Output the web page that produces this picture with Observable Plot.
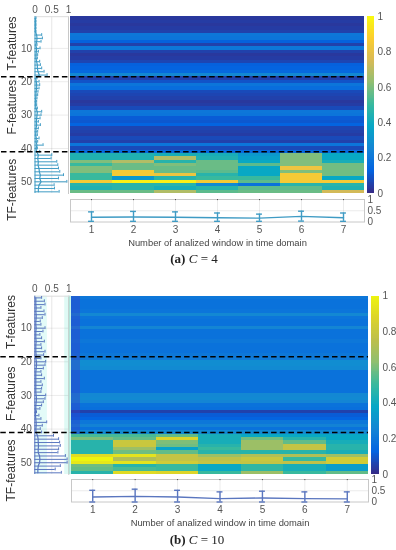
<!DOCTYPE html>
<html><head><meta charset="utf-8">
<script src="https://cdn.jsdelivr.net/npm/d3@7"></script>
<script src="https://cdn.jsdelivr.net/npm/@observablehq/plot@0.6"></script>
<style>
html,body{margin:0;padding:0;background:#fff}
#root{position:relative;width:396px;height:550px;overflow:hidden;filter:blur(.35px)}
#root svg{position:absolute;left:0;top:0;max-width:none}
.cap{position:absolute;font-family:"Liberation Serif",serif;font-size:13px;color:#222;white-space:pre;transform:translateX(-50%)}
</style></head><body><div id="root"></div>
<script>
const parulaA = ["#352a87","#0363e1","#1485d4","#06a7c6","#38b99e","#92bf73","#d9ba56","#fcce2e","#f9fb0e"];
const parulaB = ["#352a87","#0363e1","#1485d4","#06a7c6","#38b99e","#8fbf70","#bdbf4c","#dcd42a","#eef50e"];
const windows = [1,2,3,4,5,6,7];
const colorTicks = [0,0.2,0.4,0.6,0.8,1];
const errTicks = [0,0.5,1];
const rowTicks = [10,20,30,40,50];
const dividers = [18.5,41];
const groupLabels = ["T-features","F-features","TF-features"];
const xTitle = "Number of analized window in time domain";

// Panel (a) C = 4
const baseA = [.03,.04,.03,.04,.05,.2,.19,.12,.05,.2,.05,.03,.04,.06,.12,.13,.15,.26,.05,.09,.19,.16,.07,.06,.05,.03,.04,.07,.2,.19,.11,.1,.13,.06,.05,.04,.07,.05,.19,.07,.15];
const tfA = [
 [.44,.44,.6,.5,.6,.6,.5,.5,.85,.46,.44,.57],
 [.44,.44,.68,.57,.57,.85,.85,.32,.97,.46,.46,.57],
 [.42,.68,.46,.6,.57,.57,.82,.46,.97,.46,.42,.68],
 [.42,.44,.57,.57,.57,.55,.46,.5,.85,.27,.46,.55],
 [.32,.35,.38,.55,.38,.38,.38,.5,.55,.18,.55,.57],
 [.6,.6,.6,.6,.82,.6,.85,.85,.85,.46,.55,.57],
 [.38,.38,.42,.58,.58,.58,.58,.38,.85,.46,.44,.74]
];
const meanRowA = [.01,.01,.01,.01,.01,.05,.06,.05,.02,.05,.04,.03,.03,.05,.07,.07,.09,.13,.02,.04,.05,.05,.03,.03,.02,.02,.02,.03,.07,.06,.05,.04,.05,.03,.03,.02,.04,.03,.06,.03,.05,.1,.08,.1,.09,.12,.13,.16,.14,.18,.12,.1,.1];
const upperRowA = [.03,.03,.03,.03,.03,.2,.22,.18,.06,.15,.1,.08,.07,.14,.16,.2,.27,.36,.06,.12,.14,.12,.09,.08,.06,.05,.05,.07,.2,.18,.15,.1,.16,.1,.08,.07,.12,.08,.24,.07,.14,.5,.48,.65,.68,.7,.74,.85,.7,.95,.57,.58,.72];
const meanWinA = [.21,.22,.21,.19,.17,.25,.19];
const upperWinA = [.45,.47,.45,.4,.35,.48,.4];
const lowerWinA = [.03,.03,.03,.03,.03,.04,.03];

// Panel (b) C = 10
const baseB = [.2,.18,.18,.18,.19,.26,.19,.18,.18,.25,.18,.18,.18,.2,.18,.18,.18,.2,.21,.28,.28,.27,.18,.18,.18,.18,.18,.18,.18,.26,.27,.25,.18,.17,.05,.11,.13,.2,.24,.18,.27];
const tfB = [
 [.52,.6,.46,.46,.46,.46,.9,1,.95,.58,.56,.46],
 [.52,.56,.8,.8,.66,.58,.93,.72,.93,.46,.52,.9],
 [.56,.88,.6,.58,.36,.56,.78,.78,.83,.5,.5,.88],
 [.42,.42,.42,.46,.5,.46,.66,.76,.78,.38,.38,.5],
 [.38,.58,.66,.66,.66,.46,.72,.8,.78,.48,.48,.66],
 [.38,.46,.56,.78,.78,.46,.72,.5,.76,.42,.42,.5],
 [.38,.38,.42,.46,.46,.42,.66,.83,.83,.34,.34,.56]
];
const meanRowB = [.03,.03,.03,.04,.03,.04,.04,.03,.03,.04,.03,.03,.03,.04,.03,.03,.03,.04,.03,.05,.05,.04,.03,.03,.03,.03,.03,.03,.03,.04,.05,.04,.03,.03,.02,.02,.03,.04,.04,.03,.04,.08,.1,.1,.11,.1,.1,.14,.15,.14,.1,.09,.09];
const upperRowB = [.2,.28,.3,.18,.27,.3,.22,.16,.18,.3,.24,.15,.2,.28,.18,.2,.3,.26,.18,.32,.3,.25,.18,.2,.28,.18,.22,.2,.18,.32,.3,.25,.2,.15,.05,.12,.18,.35,.22,.16,.2,.55,.7,.73,.75,.7,.68,.9,.95,.95,.75,.6,.78];
const meanWinB = [.22,.25,.22,.15,.18,.15,.14];
const upperWinB = [.52,.57,.52,.45,.48,.45,.45];
const lowerWinB = [0,0,0,0,0,0,0,0];

// Pale halos around the left error plot of panel (b): [start, end, colour]
const haloB = [[0,.37,"#e3fbf8"],[.88,1,"#dffaf5"],[1,1.07,"#a9efe0"]];

const FONT = "Liberation Sans, Arial, sans-serif";
const root = document.getElementById("root");

function box(l,t,r,b){return {width:396,height:550,marginLeft:l,marginTop:t,marginRight:396-r,marginBottom:550-b,
  style:{background:"transparent",fontFamily:FONT,fontSize:"10px",color:"#555",overflow:"visible"}};}

function drawPanel(o){
  const rowDomain=[53.5,0.5];
  const colorScale={type:"linear",domain:[0,1],interpolate:d3.piecewise(d3.interpolateRgb,o.palette)};
  const cells=[];
  windows.forEach((w,ci)=>{
    o.base.forEach((v,ri)=>cells.push({w,row:ri+1,v}));
    o.tf[ci].forEach((v,ri)=>cells.push({w,row:ri+42,v}));
  });
  const heatMarks=[
    Plot.rect(cells,{x1:d=>d.w-.5,x2:d=>d.w+.5,y1:d=>d.row-.5,y2:d=>d.row+.5,fill:"v",shapeRendering:"crispEdges"}),
  ];
  if(o.strip) heatMarks.push(Plot.rect(o.base,{x1:.5,x2:.72,y1:(d,i)=>i+.5,y2:(d,i)=>i+1.5,fill:"#3a3fc8",fillOpacity:.4,shapeRendering:"crispEdges"}));
  heatMarks.push(Plot.ruleY(dividers,{stroke:"#000",strokeWidth:1.4,strokeDasharray:"5.5,3.2"}));
  root.append(Plot.plot({...box(o.hx[0],o.top,o.hx[1],o.bot),
    x:{domain:[.5,7.5],axis:null},y:{domain:rowDomain,axis:null},color:colorScale,marks:heatMarks}));

  const rowData=o.meanRow.map((m,i)=>({row:i+1,m,u:o.upperRow[i]}));
  const leftMarks=[];
  if(o.halo) leftMarks.push(Plot.rect(o.halo,{x1:d=>d[0],x2:d=>d[1],y1:.5,y2:53.5,fill:d=>d[2]}));
  leftMarks.push(
    Plot.gridX([.5],{stroke:"#000",strokeOpacity:.1}),
    Plot.gridY(rowTicks,{stroke:"#000",strokeOpacity:.08}),
    Plot.frame({stroke:"#c8c8c8",strokeWidth:1,anchor:"right"}),
    Plot.frame({stroke:"#dcdcdc",strokeWidth:1,anchor:"top"}),
    Plot.ruleY(rowData,{y:"row",x1:0,x2:"u",stroke:o.color,strokeWidth:1}),
    Plot.ruleX(rowData,{x:"u",y1:d=>d.row-.42,y2:d=>d.row+.42,stroke:o.color,strokeWidth:1}),
    Plot.ruleX([0],{y1:.5,y2:53.5,stroke:o.color,strokeWidth:1}),
    Plot.line(rowData,{x:"m",y:"row",stroke:o.color,strokeWidth:1.2,curve:"linear"}),
    Plot.axisX(errTicks,{anchor:"top",tickSize:0,tickPadding:4,label:null,fontSize:10,fill:"#555",tickFormat:String}),
    Plot.axisY(rowTicks,{anchor:"left",tickSize:0,tickPadding:3,label:null,fontSize:10,fill:"#555"}),
    Plot.ruleY(dividers,{x1:-1,x2:1.06,stroke:"#000",strokeWidth:1.4,strokeDasharray:"5.5,3.2"}),
    Plot.text(groupLabels,{x:-.695,y:(d,i)=>o.labelY[i],rotate:-90,fontSize:12,fill:"#333",text:d=>d})
  );
  root.append(Plot.plot({...box(o.lx[0],o.top,o.lx[1],o.bot),x:{domain:[0,1]},y:{domain:rowDomain},marks:leftMarks}));

  const ramp=d3.range(0,1,.005);
  root.append(Plot.plot({...box(o.cb[0],o.top,o.cb[1],o.bot),
    x:{domain:[0,1],axis:null},y:{domain:[0,1]},color:colorScale,marks:[
      Plot.rect(ramp,{x1:0,x2:1,y1:d=>d,y2:d=>d+.006,fill:d=>d,shapeRendering:"crispEdges"}),
      Plot.axisY(colorTicks,{anchor:"right",tickSize:0,tickPadding:3,label:null,fontSize:10,fill:"#555",tickFormat:String})
    ]}));

  const winData=windows.map((w,i)=>({w,m:o.meanWin[i],u:o.upperWin[i],l:o.lowerWin[i]}));
  root.append(Plot.plot({...box(o.hx[0],o.by[0],o.hx[1],o.by[1]),
    x:{domain:[.5,7.5]},y:{domain:[0,1]},marks:[
      Plot.gridX(windows,{stroke:"#000",strokeOpacity:.08}),
      Plot.gridY([.5],{stroke:"#000",strokeOpacity:.08}),
      Plot.frame({stroke:"#c8c8c8"}),
      Plot.ruleX(windows,{x:d=>d,y1:.95,y2:1,stroke:"#555"}),
      Plot.ruleX(winData,{x:"w",y1:"l",y2:"u",stroke:o.color,strokeWidth:1.4}),
      Plot.ruleY(winData,{y:"u",x1:d=>d.w-.07,x2:d=>d.w+.07,stroke:o.color,strokeWidth:1.4}),
      Plot.ruleY(winData,{y:"l",x1:d=>d.w-.07,x2:d=>d.w+.07,stroke:o.color,strokeWidth:1.4}),
      Plot.line(winData,{x:"w",y:"m",stroke:o.color,strokeWidth:1.4}),
      Plot.axisX(windows,{anchor:"bottom",tickSize:0,tickPadding:4,fontSize:10,fill:"#555",label:null,tickFormat:String}),
      Plot.axisY(errTicks,{anchor:"right",tickSize:0,tickPadding:3,label:null,fontSize:10,fill:"#555",tickFormat:String}),
      Plot.text([xTitle],{x:4,y:-.92,fontSize:9.4,fill:"#444",text:d=>d})
    ]}));

  const c=document.createElement("div");
  c.className="cap";c.style.left=o.capX+"px";c.style.top=o.capY+"px";
  c.innerHTML=`<b>(${o.tag})</b> <i>C</i> = ${o.C}`;
  root.append(c);
}

drawPanel({tag:"a",C:4,top:16.2,bot:193,hx:[70,364],lx:[34.5,68],cb:[367,374],by:[199,221.5],palette:parulaA,
  base:baseA,tf:tfA,meanRow:meanRowA,upperRow:upperRowA,meanWin:meanWinA,upperWin:upperWinA,lowerWin:lowerWinA,
  color:"#3f9bc4",labelY:[8.5,27.6,52.4],capX:194,capY:251});
drawPanel({tag:"b",C:10,top:295.7,bot:474,hx:[71,368],lx:[34.3,68.3],cb:[371,379],by:[479,501.5],palette:parulaB,
  base:baseB,tf:tfB,meanRow:meanRowB,upperRow:upperRowB,meanWin:meanWinB,upperWin:upperWinB,lowerWin:lowerWinB,
  color:"#5a76bf",labelY:[8.2,29.5,52.3],capX:197,capY:532,halo:haloB,strip:true});
</script></body></html>
